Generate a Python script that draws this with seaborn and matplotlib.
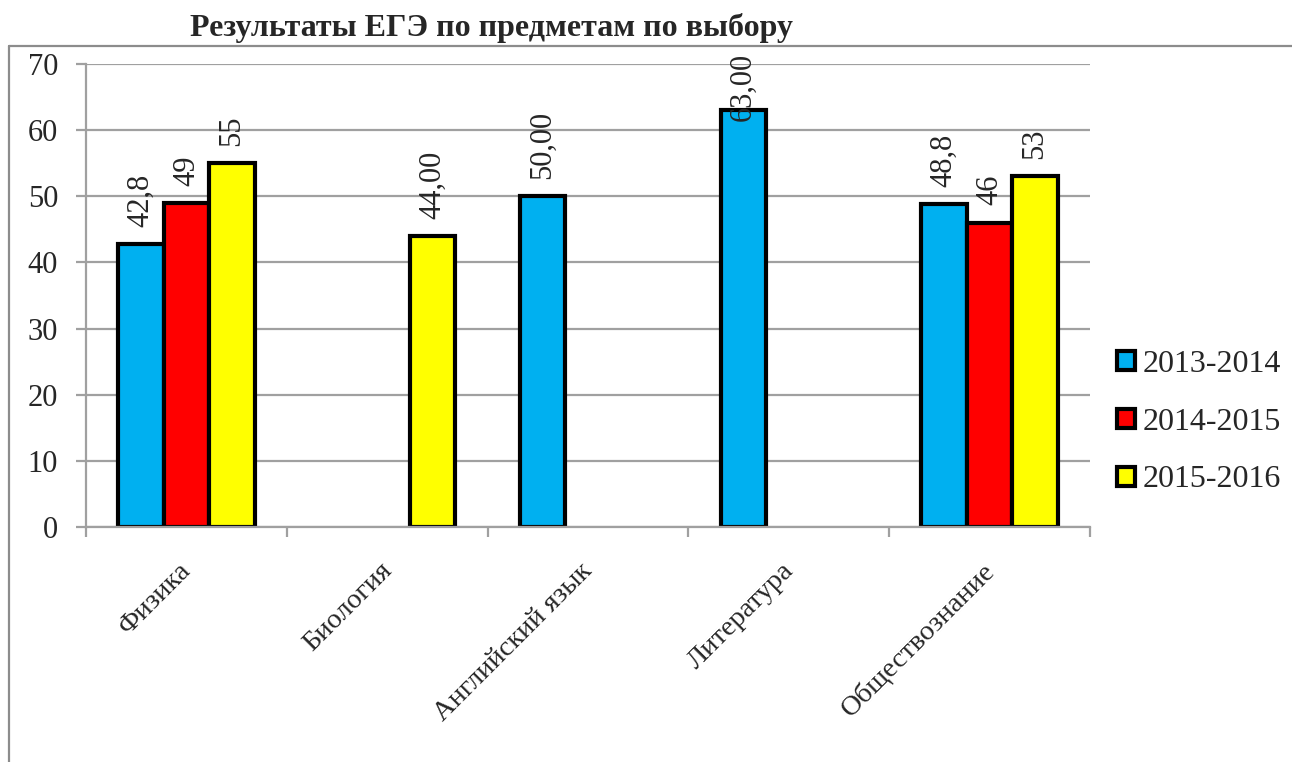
import pandas as pd
import matplotlib
matplotlib.use("Agg")
import matplotlib.pyplot as plt
import matplotlib.transforms as mtransforms
from matplotlib.patches import Patch
from matplotlib.lines import Line2D
import seaborn as sns

# data
subjects = ["Физика", "Биология", "Английский язык", "Литература", "Обществознание"]
years = ["2013-2014", "2014-2015", "2015-2016"]
v2014 = [42.8, None, 50.0, 63.0, 48.8]
v2015 = [49, None, None, None, 46]
v2016 = [55, 44.0, None, None, 53]
lab2014 = ["42,8", "", "50,00", "63,00", "48,8"]
lab2015 = ["49", "", "", "", "46"]
lab2016 = ["55", "44,00", "", "", "53"]
colors = ["#00B0F0", "#FF0000", "#FFFF00"]

rows = []
for yr, vals, labs in zip(years, [v2014, v2015, v2016], [lab2014, lab2015, lab2016]):
    for s, v, l in zip(subjects, vals, labs):
        if v is not None:
            rows.append({"subject": s, "year": yr, "score": v, "label": l})
df = pd.DataFrame(rows)

sns.set_style("white")
plt.rcParams["font.family"] = ["Liberation Serif", "DejaVu Serif"]

fig = plt.figure(figsize=(12.92, 7.62), dpi=100)
ax = fig.add_axes([86 / 1292, 1 - 527 / 762, 1004 / 1292, 463 / 762])

sns.barplot(data=df, x="subject", y="score", hue="year", order=subjects,
            hue_order=years, palette=colors, width=0.68, saturation=1,
            edgecolor="black", linewidth=3, legend=False, ax=ax)

# data labels
for cont, yr in zip(ax.containers, years):
    sub = df[df.year == yr].set_index("subject")
    labs = [sub.loc[s, "label"] for s in subjects if s in sub.index]
    texts = ax.bar_label(cont, labels=labs, rotation=90, padding=12.5, fontsize=22)
    for t, lab in zip(texts, labs):
        if lab == "63,00":
            # pushed down to stay inside the chart area, like in the original
            t.xyann = (0, -7.5)

ax.set_ylim(0, 70)
ax.set_xlim(-0.5, 4.5)
ax.set_yticks(range(0, 71, 10))
ax.yaxis.grid(True, color="#a0a0a0", linewidth=1.6)
ax.set_axisbelow(True)
ax.set_xlabel("")
ax.set_ylabel("")
for sp in ["top", "right"]:
    ax.spines[sp].set_visible(False)
for sp in ["left", "bottom"]:
    ax.spines[sp].set_color("#a0a0a0")
    ax.spines[sp].set_linewidth(1.6)

ax.tick_params(axis="y", direction="out", length=7, width=1.6, color="#a0a0a0",
               labelsize=22, pad=13, left=True)
ax.set_xticks([i - 0.5 for i in range(6)], minor=True)
ax.tick_params(axis="x", which="minor", direction="out", length=7, width=1.6,
               color="#a0a0a0", bottom=True)
ax.tick_params(axis="x", which="major", length=0, labelsize=20.5, pad=26)
ax.set_xticks(range(len(subjects)))
ax.set_xticklabels(subjects, rotation=45, ha="right", va="top", rotation_mode="anchor")
shift = mtransforms.ScaledTranslation(-8 / 100, 5 / 100, fig.dpi_scale_trans)
for lbl in ax.get_xticklabels():
    lbl.set_transform(lbl.get_transform() + shift)

handles = [Patch(facecolor=c, edgecolor="black", linewidth=3) for c in colors]
fig.legend(handles, years, loc="upper left", bbox_to_anchor=(1117 / 1292, 1 - 350 / 762),
           frameon=False, fontsize=23, handlelength=0.55, handleheight=0.55,
           handletextpad=0.25, labelspacing=0.9, borderpad=0, borderaxespad=0)

fig.text(491 / 1292, 1 - 28 / 762, "Результаты ЕГЭ по предметам по выбору",
         ha="center", va="center", fontsize=23, fontweight="bold")

# chart area border (cut off at the right and bottom)
fig.add_artist(Line2D([9 / 1292, 9 / 1292], [0, 1 - 46 / 762], color="#8c8c8c", linewidth=1.6))
fig.add_artist(Line2D([9 / 1292, 1], [1 - 46 / 762, 1 - 46 / 762], color="#8c8c8c", linewidth=1.6))

fig.savefig("out.png", dpi=100, facecolor="white")
